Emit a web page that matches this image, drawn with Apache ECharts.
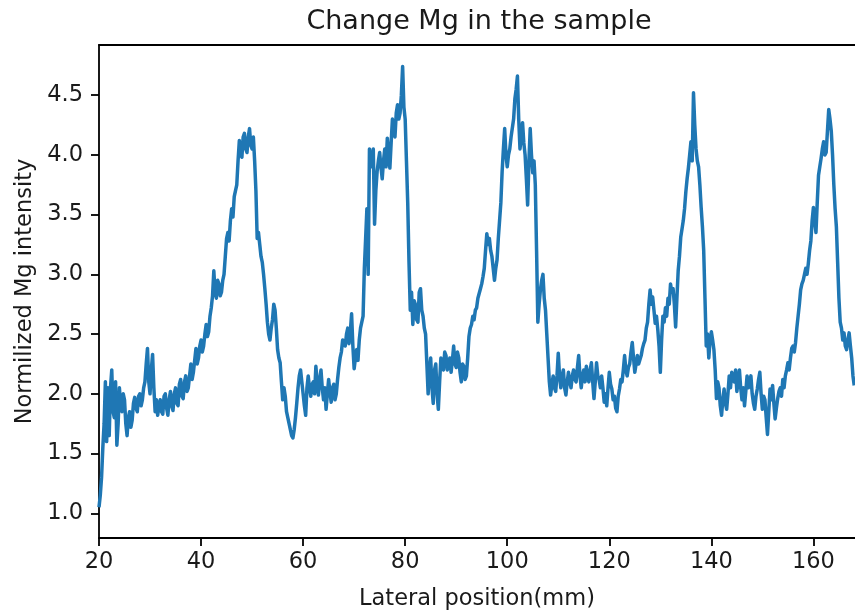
<!DOCTYPE html>
<html>
<head>
<meta charset="utf-8">
<script src="https://cdn.jsdelivr.net/npm/echarts@6/dist/echarts.min.js"></script>
<style>
html,body{margin:0;padding:0;background:#fff;}
#chart{width:855px;height:616px;}
</style>
</head>
<body>
<div id="chart"></div>
<script>
// ---- data ----
const titleText = 'Change Mg in the sample';
const xAxisName = 'Lateral position(mm)';
const yAxisName = 'Normilized Mg intensity';
const positionStart = 20;    // mm, first sample
const positionStep = 0.25;   // mm between samples
const xTicks = [20, 40, 60, 80, 100, 120, 140, 160];
const yTicks = [1.0, 1.5, 2.0, 2.5, 3.0, 3.5, 4.0, 4.5];
// one row = 5 mm (20 samples)
const intensity = [
  1.05, 1.15, 1.30, 1.55, 1.75, 2.10, 1.60, 2.05, 1.65, 2.05, 2.20, 1.85, 1.80, 2.10, 1.57, 1.75, 2.05, 1.90, 1.85, 2.00,
  1.95, 1.75, 1.65, 1.80, 1.85, 1.72, 1.78, 1.92, 1.97, 1.88, 1.85, 1.98, 2.00, 1.90, 1.95, 2.05, 2.10, 2.25, 2.38, 2.10,
  2.00, 2.20, 2.33, 2.05, 1.85, 1.95, 1.82, 1.90, 1.95, 1.85, 1.83, 1.98, 2.00, 1.88, 1.82, 1.95, 2.02, 1.90, 1.86, 2.00,
  2.05, 1.92, 1.90, 2.08, 2.12, 1.98, 1.96, 2.10, 2.15, 2.02, 2.05, 2.15, 2.25, 2.12, 2.18, 2.28, 2.38, 2.25, 2.30, 2.40,
  2.45, 2.35, 2.40, 2.50, 2.58, 2.48, 2.52, 2.65, 2.72, 2.82, 3.03, 2.85, 2.80, 2.95, 2.92, 2.82, 2.85, 2.95, 3.00, 3.15,
  3.30, 3.35, 3.28, 3.45, 3.55, 3.48, 3.65, 3.70, 3.75, 3.95, 4.12, 4.00, 3.98, 4.15, 4.18, 4.05, 4.02, 4.15, 4.22, 4.08,
  4.05, 4.15, 3.95, 3.70, 3.30, 3.35, 3.25, 3.15, 3.10, 3.00, 2.88, 2.75, 2.60, 2.50, 2.45, 2.55, 2.62, 2.75, 2.70, 2.55,
  2.37, 2.30, 2.26, 2.10, 1.95, 2.05, 1.98, 1.85, 1.80, 1.75, 1.70, 1.65, 1.63, 1.70, 1.80, 1.92, 2.05, 2.15, 2.20, 2.10,
  2.00, 1.90, 1.82, 2.05, 2.15, 2.05, 1.98, 2.08, 2.10, 2.00, 2.23, 2.10, 1.99, 2.12, 2.20, 2.05, 1.95, 2.05, 1.87, 2.00,
  2.12, 2.02, 1.93, 2.05, 2.08, 1.95, 2.00, 2.12, 2.22, 2.30, 2.35, 2.45, 2.45, 2.40, 2.50, 2.55, 2.42, 2.52, 2.67, 2.40,
  2.21, 2.30, 2.37, 2.28, 2.45, 2.55, 2.55, 2.65, 3.05, 3.30, 3.55, 3.00, 4.05, 3.90, 3.95, 4.05, 3.42, 3.70, 3.86, 3.95,
  4.02, 3.90, 3.80, 3.95, 4.05, 3.90, 4.14, 4.00, 3.89, 4.10, 4.30, 4.20, 4.15, 4.35, 4.42, 4.30, 4.35, 4.50, 4.74, 4.40,
  4.30, 3.95, 3.60, 3.10, 2.70, 2.85, 2.58, 2.78, 2.75, 2.62, 2.60, 2.85, 2.88, 2.70, 2.65, 2.55, 2.50, 2.25, 2.00, 2.20,
  2.30, 2.05, 1.92, 2.20, 2.25, 2.00, 1.87, 2.10, 2.30, 2.22, 2.20, 2.35, 2.32, 2.20, 2.25, 2.30, 2.18, 2.28, 2.40, 2.25,
  2.22, 2.35, 2.30, 2.18, 2.10, 2.25, 2.23, 2.12, 2.15, 2.30, 2.48, 2.55, 2.58, 2.65, 2.62, 2.70, 2.72, 2.80, 2.80, 2.88,
  2.92, 2.98, 3.05, 3.20, 3.34, 3.25, 3.30, 3.20, 3.15, 3.05, 2.95, 3.05, 3.12, 3.30, 3.45, 3.60, 3.86, 4.05, 4.22, 4.00,
  3.90, 4.00, 4.05, 4.15, 4.16, 4.30, 4.47, 4.55, 4.66, 4.30, 4.05, 4.15, 4.27, 4.10, 4.00, 3.80, 3.58, 3.95, 4.22, 4.00,
  3.85, 3.95, 3.75, 3.20, 2.60, 2.75, 2.87, 2.95, 3.00, 2.80, 2.70, 2.50, 2.30, 2.10, 1.99, 2.08, 2.15, 2.05, 2.02, 2.15,
  2.34, 2.15, 2.05, 2.15, 2.20, 2.05, 1.99, 2.10, 2.18, 2.10, 2.05, 2.15, 2.20, 2.12, 2.10, 2.22, 2.32, 2.15, 2.05, 2.15,
  2.20, 2.10, 2.23, 2.15, 2.10, 2.20, 2.26, 2.10, 1.96, 2.10, 2.26, 2.15, 2.12, 2.05, 2.15, 2.05, 1.93, 2.00, 1.90, 2.05,
  2.18, 2.08, 2.04, 1.95, 1.98, 1.88, 1.85, 1.98, 2.04, 2.12, 2.10, 2.20, 2.32, 2.20, 2.15, 2.22, 2.25, 2.35, 2.43, 2.30,
  2.18, 2.25, 2.32, 2.25, 2.26, 2.32, 2.38, 2.42, 2.45, 2.55, 2.60, 2.75, 2.87, 2.75, 2.81, 2.70, 2.59, 2.65, 2.54, 2.40,
  2.18, 2.45, 2.65, 2.60, 2.72, 2.65, 2.80, 2.75, 2.92, 2.85, 2.88, 2.75, 2.56, 2.80, 3.03, 3.15, 3.31, 3.38, 3.45, 3.55,
  3.69, 3.80, 3.89, 4.00, 4.11, 3.95, 4.52, 4.25, 4.05, 3.95, 3.90, 3.75, 3.56, 3.40, 3.20, 2.80, 2.40, 2.50, 2.30, 2.45,
  2.52, 2.45, 2.37, 2.20, 1.96, 2.10, 2.05, 1.90, 1.82, 1.95, 2.04, 1.92, 1.87, 2.00, 2.15, 2.05, 2.18, 2.12, 2.10, 2.20,
  2.02, 2.10, 2.20, 2.05, 1.95, 2.05, 1.90, 2.02, 2.15, 2.05, 2.10, 2.15, 2.00, 1.92, 1.87, 1.98, 2.04, 2.12, 2.18, 2.00,
  1.87, 1.98, 1.95, 1.80, 1.66, 1.85, 2.04, 1.95, 2.07, 1.92, 1.79, 1.88, 1.96, 2.02, 2.05, 1.98, 2.12, 2.05, 2.15, 2.20,
  2.26, 2.20, 2.30, 2.38, 2.40, 2.35, 2.43, 2.55, 2.65, 2.75, 2.87, 2.92, 2.95, 3.00, 3.05, 3.00, 3.09, 3.20, 3.28, 3.45,
  3.56, 3.45, 3.35, 3.60, 3.83, 3.90, 3.97, 4.05, 4.11, 4.00, 4.02, 4.20, 4.38, 4.30, 4.20, 4.00, 3.75, 3.55, 3.40, 3.10,
  2.80, 2.60, 2.55, 2.45, 2.51, 2.40, 2.37, 2.45, 2.51, 2.40, 2.30, 2.15, 2.07
];

// ---- chart ----
const seriesData = intensity.map((v, i) => [positionStart + i * positionStep, v]);
const FONT = 'DejaVu Sans';
const TXT = '#1a1a1a';
const chart = echarts.init(document.getElementById('chart'), null, {renderer: 'canvas'});
chart.setOption({
  animation: false,
  backgroundColor: '#fff',
  title: {
    text: titleText,
    left: 479, top: 8, padding: 0, textAlign: 'center',
    textStyle: {fontFamily: FONT, fontSize: 27, fontWeight: 'normal', color: TXT}
  },
  grid: {left: 99, top: 45, right: 0, bottom: 72, containLabel: false},
  xAxis: [{
    type: 'value', min: 20, max: 168.15,
    name: xAxisName, nameLocation: 'middle', nameGap: 50,
    nameTextStyle: {fontFamily: FONT, fontSize: 22.5, color: TXT},
    splitLine: {show: false},
    axisLine: {show: true, onZero: false, lineStyle: {color: '#000', width: 1.8}},
    axisTick: {show: true, inside: false, length: 8, lineStyle: {color: '#000', width: 1.8}, customValues: xTicks},
    axisLabel: {fontFamily: FONT, fontSize: 22.5, color: TXT, margin: 13, customValues: xTicks,
      formatter: v => String(v)}
  }, {
    type: 'value', position: 'top', min: 20, max: 168.15,
    splitLine: {show: false},
    axisLine: {show: true, onZero: false, lineStyle: {color: '#000', width: 1.8}},
    axisTick: {show: false}, axisLabel: {show: false}
  }],
  yAxis: {
    type: 'value', min: 0.793, max: 4.92,
    name: yAxisName, nameLocation: 'middle', nameGap: 62, nameRotate: 90,
    nameTextStyle: {fontFamily: FONT, fontSize: 22.5, color: TXT},
    splitLine: {show: false},
    axisLine: {show: true, onZero: false, lineStyle: {color: '#000', width: 1.8}},
    axisTick: {show: true, inside: false, length: 8, lineStyle: {color: '#000', width: 1.8}, customValues: yTicks},
    axisLabel: {fontFamily: FONT, fontSize: 22.5, color: TXT, margin: 16, customValues: yTicks,
      formatter: v => Number(v).toFixed(1)}
  },
  series: [{
    type: 'line', data: seriesData, xAxisIndex: 0,
    showSymbol: false, symbol: 'none', clip: true,
    lineStyle: {color: '#1f77b4', width: 3.5, join: 'round'}
  }]
});
</script>
</body>
</html>
